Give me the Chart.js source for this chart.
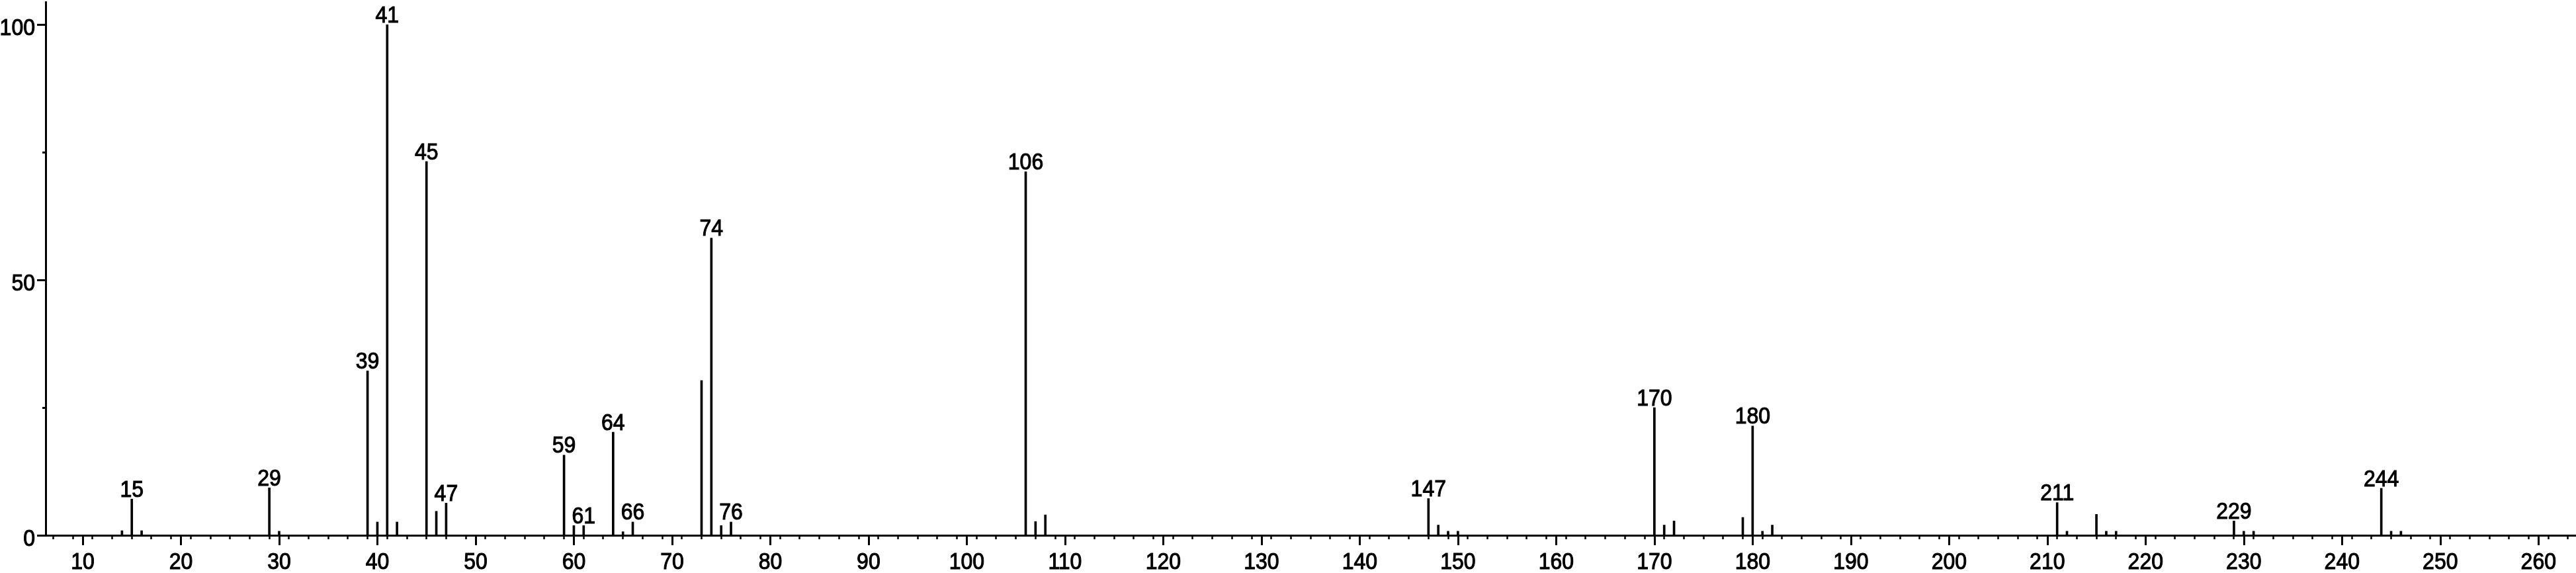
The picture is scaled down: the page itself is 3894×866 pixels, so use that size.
<!DOCTYPE html>
<html>
<head>
<meta charset="utf-8">
<title>Mass spectrum</title>
<script src="https://cdn.jsdelivr.net/npm/chart.js@4/dist/chart.umd.min.js"></script>
<style>
  html, body { margin: 0; padding: 0; background: #fff; }
  canvas { display: block; }
</style>
</head>
<body>
<canvas id="spectrum" width="3894" height="866"></canvas>
<script>
// m/z and relative intensity (%)
const mz = [14, 15, 16, 29, 30, 39, 40, 41, 42, 45, 46, 47,
  59, 60, 61, 64, 65, 66, 73, 74, 75, 76,
  106, 107, 108, 147, 148, 149, 150,
  170, 171, 172, 179, 180, 181, 182,
  211, 212, 215, 216, 217, 229, 230, 231, 244, 245, 246];
const intensity = [0.9, 7.1, 0.9, 9.3, 0.8, 32.2, 2.6, 100, 2.6, 73.2, 4.7, 6.3,
  15.7, 1.9, 1.9, 20.2, 0.7, 2.6, 30.3, 58.2, 1.9, 2.6,
  71.2, 2.7, 4.0, 7.2, 2.0, 0.8, 0.8,
  25.0, 2.0, 2.8, 3.5, 21.4, 0.8, 2.0,
  6.4, 0.8, 4.1, 0.8, 0.8, 2.8, 0.8, 0.8, 9.2, 0.8, 0.8];
// peaks that carry their m/z as a label
const labeledPeaks = [15, 29, 39, 41, 45, 47, 59, 61, 64, 66, 74, 76, 106, 147, 170, 180, 211, 229, 244];
const xTicks = [];
for (let v = 8; v <= 262; v += 2) xTicks.push(v);
const yTicks = [0, 25, 50, 75, 100];

const FONT = '"Liberation Sans", Arial, Helvetica, sans-serif';
const FONT_SIZE = 32;
const STRETCH = 1.12;  // glyphs in the original are a bit taller than Arial

// text drawn with a slight vertical stretch and a thin outline to match the heavier strokes
function drawLabel(ctx, text, x, yCenter, align) {
  ctx.save();
  ctx.translate(x, yCenter + 0.358 * FONT_SIZE * STRETCH);
  ctx.scale(1, STRETCH);
  ctx.font = FONT_SIZE + 'px ' + FONT;
  ctx.fillStyle = '#000';
  ctx.strokeStyle = '#000';
  ctx.lineWidth = 1;
  ctx.textAlign = align;
  ctx.textBaseline = 'alphabetic';
  ctx.fillText(text, 0, 0);
  ctx.strokeText(text, 0, 0);
  ctx.restore();
}

// longer marks and numbers for the labelled ticks
const axisLabels = {
  id: 'axisLabels',
  afterDraw(chart) {
    const { ctx } = chart;
    const xs = chart.scales.x, ys = chart.scales.y;
    ctx.save();
    ctx.strokeStyle = '#000';
    ctx.lineWidth = 3;
    ctx.beginPath();
    xs.ticks.forEach(t => {
      if (t.value % 10 === 0) {
        const px = Math.round(xs.getPixelForValue(t.value)) + 0.5;
        ctx.moveTo(px, xs.top);
        ctx.lineTo(px, xs.top + 15);
      }
    });
    ys.ticks.forEach(t => {
      if (t.value % 50 === 0) {
        const py = Math.round(ys.getPixelForValue(t.value)) + 0.5;
        ctx.moveTo(ys.right - 13, py);
        ctx.lineTo(ys.right, py);
      }
    });
    ctx.stroke();
    ctx.restore();

    xs.ticks.forEach(t => {
      if (t.value % 10 === 0) drawLabel(ctx, String(t.value), xs.getPixelForValue(t.value), xs.top + 38.5, 'center');
    });
    ys.ticks.forEach(t => {
      if (t.value % 50 === 0) drawLabel(ctx, String(t.value), ys.right - 16, ys.getPixelForValue(t.value) + 3, 'right');
    });
  }
};

const peakLabels = {
  id: 'peakLabels',
  afterDatasetsDraw(chart) {
    const { ctx } = chart;
    const meta = chart.getDatasetMeta(0);
    const half = 0.358 * FONT_SIZE * STRETCH;
    meta.data.forEach((bar, i) => {
      if (labeledPeaks.includes(mz[i])) drawLabel(ctx, String(mz[i]), bar.x, bar.y - 3.5 - half, 'center');
    });
  }
};

new Chart(document.getElementById('spectrum'), {
  type: 'bar',
  data: {
    datasets: [{
      data: mz.map((m, i) => ({ x: m, y: intensity[i] })),
      backgroundColor: '#000',
      borderWidth: 0,
      barThickness: 3
    }]
  },
  options: {
    responsive: false,
    devicePixelRatio: 1,
    animation: false,
    layout: { padding: { top: 3, left: 0, right: 0, bottom: 0 } },
    plugins: { legend: { display: false }, tooltip: { enabled: false } },
    scales: {
      x: {
        type: 'linear',
        bounds: 'data',
        min: 6.23,
        max: 263.82,
        offset: false,
        border: { color: '#000', width: 3 },
        grid: { drawOnChartArea: false, drawTicks: true, tickLength: 6, tickWidth: 2.5, color: '#000' },
        ticks: { display: false, autoSkip: false },
        afterBuildTicks: s => { s.ticks = xTicks.map(v => ({ value: v })); },
        afterFit: s => { s.height = 57; s.paddingLeft = 0; s.paddingRight = 0; }
      },
      y: {
        type: 'linear',
        bounds: 'data',
        min: 0,
        max: 104.44,
        border: { color: '#000', width: 3 },
        grid: { drawOnChartArea: false, drawTicks: true, tickLength: 5, tickWidth: 3, color: '#000' },
        ticks: { display: false, autoSkip: false },
        afterBuildTicks: s => { s.ticks = yTicks.map(v => ({ value: v })); },
        afterFit: s => { s.width = 69; s.paddingTop = 0; s.paddingBottom = 0; }
      }
    }
  },
  plugins: [axisLabels, peakLabels]
});
</script>
</body>
</html>
